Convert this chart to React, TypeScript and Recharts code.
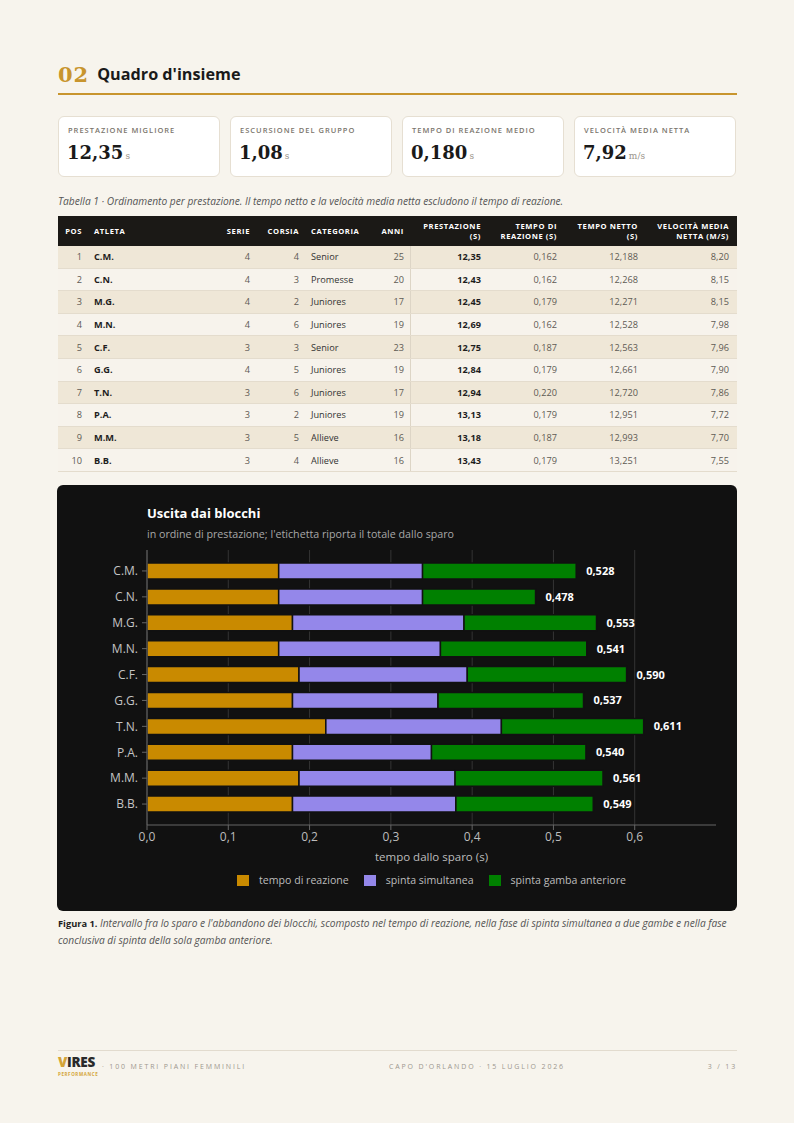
import React from 'react';
import { BarChart, Bar, XAxis, YAxis, CartesianGrid, LabelList } from 'recharts';

// ---------- data ----------
const athletes = ['C.M.', 'C.N.', 'M.G.', 'M.N.', 'C.F.', 'G.G.', 'T.N.', 'P.A.', 'M.M.', 'B.B.'];
const serie = [4, 4, 4, 4, 3, 4, 3, 3, 3, 3];
const corsia = [4, 3, 2, 6, 3, 5, 6, 2, 5, 4];
const categoria = ['Senior', 'Promesse', 'Juniores', 'Juniores', 'Senior', 'Juniores', 'Juniores', 'Juniores', 'Allieve', 'Allieve'];
const anni = [25, 20, 17, 19, 23, 19, 17, 19, 16, 16];
const prestazione = [12.35, 12.43, 12.45, 12.69, 12.75, 12.84, 12.94, 13.13, 13.18, 13.43];
const tempoReazione = [0.162, 0.162, 0.179, 0.162, 0.187, 0.179, 0.22, 0.179, 0.187, 0.179];
const tempoNetto = [12.188, 12.268, 12.271, 12.528, 12.563, 12.661, 12.72, 12.951, 12.993, 13.251];
const velocitaNetta = [8.2, 8.15, 8.15, 7.98, 7.96, 7.9, 7.86, 7.72, 7.7, 7.55];

// chart segments (s)
const spintaSimultanea = [0.177, 0.177, 0.211, 0.199, 0.207, 0.179, 0.216, 0.171, 0.192, 0.201];
const spintaAnteriore = [0.189, 0.139, 0.163, 0.18, 0.196, 0.179, 0.175, 0.19, 0.182, 0.169];
const totaleSparo = [0.528, 0.478, 0.553, 0.541, 0.59, 0.537, 0.611, 0.54, 0.561, 0.549];

const xTicks = [0, 0.1, 0.2, 0.3, 0.4, 0.5, 0.6];

const kpiLabels = ['PRESTAZIONE MIGLIORE', 'ESCURSIONE DEL GRUPPO', 'TEMPO DI REAZIONE MEDIO', 'VELOCITÀ MEDIA NETTA'];
const kpiValues = ['12,35', '1,08', '0,180', '7,92'];
const kpiUnits = ['s', 's', 's', 'm/s'];

const legendLabels = ['tempo di reazione', 'spinta simultanea', 'spinta gamba anteriore'];
const colors = ['#c98a00', '#9487ea', '#008000'];

// ---------- helpers ----------
const fmt = (v: number, d: number) => v.toFixed(d).replace('.', ',');

const chartData = athletes.map((name, i) => ({
  name,
  react: tempoReazione[i],
  simul: spintaSimultanea[i],
  front: spintaAnteriore[i],
  total: fmt(totaleSparo[i], 3),
}));

const SANS = '"Open Sans", "Noto Sans", sans-serif';
const SERIF = '"DejaVu Serif", "Liberation Serif", serif';

const cols = [
  { w: 30, align: 'right', h: ['POS'] },
  { w: 112, align: 'left', h: ['ATLETA'] },
  { w: 56, align: 'right', h: ['SERIE'] },
  { w: 49, align: 'right', h: ['CORSIA'] },
  { w: 65, align: 'left', h: ['CATEGORIA'] },
  { w: 40, align: 'right', h: ['ANNI'] },
  { w: 77, align: 'right', h: ['PRESTAZIONE', '(S)'] },
  { w: 76, align: 'right', h: ['TEMPO DI', 'REAZIONE (S)'] },
  { w: 81, align: 'right', h: ['TEMPO NETTO', '(S)'] },
  { w: 93, align: 'right', h: ['VELOCITÀ MEDIA', 'NETTA (M/S)'] },
];

const gridX = (props: any) => {
  const axis = props.xAxis;
  const off = props.offset;
  if (axis && typeof axis.scale === 'function') {
    return xTicks.map((t) => axis.scale(t));
  }
  const left = off ? off.left : 90;
  const w = off ? off.width : 569;
  return xTicks.map((t) => left + (t / 0.7) * w);
};

export default function App() {
  return (
    <div
      style={{
        position: 'absolute',
        left: 0,
        top: 0,
        width: 794,
        height: 1123,
        background: '#f7f4ed',
        fontFamily: SANS,
        overflow: 'hidden',
      }}
    >
      {/* Section header */}
      <div style={{ position: 'absolute', left: 58, top: 60, height: 28, display: 'flex', alignItems: 'center' }}>
        <span style={{ fontFamily: SERIF, fontWeight: 700, fontSize: 21, color: '#c8952e', letterSpacing: 1 }}>02</span>
        <span style={{ marginLeft: 8, fontWeight: 700, fontSize: 16.2, color: '#1a1a1a' }}>Quadro d'insieme</span>
      </div>
      <div style={{ position: 'absolute', left: 58, top: 93, width: 679, height: 2, background: '#c8952e' }} />

      {/* KPI cards */}
      {kpiLabels.map((lab, i) => (
        <div
          key={lab}
          style={{
            position: 'absolute',
            left: 58 + i * 172,
            top: 116,
            width: 162,
            height: 61,
            boxSizing: 'border-box',
            background: '#ffffff',
            border: '1px solid #e6dfd2',
            borderRadius: 6,
          }}
        >
          <div
            style={{
              position: 'absolute',
              left: 9,
              top: 8,
              fontSize: 7.5,
              fontWeight: 600,
              letterSpacing: 1,
              color: '#7a756c',
              lineHeight: '10px',
              whiteSpace: 'nowrap',
            }}
          >
            {lab}
          </div>
          <div style={{ position: 'absolute', left: 8, top: 25, whiteSpace: 'nowrap' }}>
            <span style={{ fontFamily: SERIF, fontWeight: 700, fontSize: 18, color: '#1a1a1a' }}>{kpiValues[i]}</span>
            <span style={{ fontFamily: SERIF, fontSize: 9, color: '#9a948a', marginLeft: 2 }}>{kpiUnits[i]}</span>
          </div>
        </div>
      ))}

      {/* Table caption */}
      <div style={{ position: 'absolute', left: 58, top: 194, fontSize: 10.2, fontStyle: 'italic', color: '#555', whiteSpace: 'nowrap' }}>
        Tabella 1 · Ordinamento per prestazione. Il tempo netto e la velocità media netta escludono il tempo di reazione.
      </div>

      {/* Table */}
      <div style={{ position: 'absolute', left: 58, top: 216, width: 679 }}>
        <div style={{ display: 'flex', height: 30, background: '#1b1916', color: '#fff', alignItems: 'center' }}>
          {cols.map((c, j) => (
            <div
              key={j}
              style={{
                width: c.w,
                boxSizing: 'border-box',
                padding: j === cols.length - 1 ? '0 8px 0 6px' : '0 6px',
                textAlign: c.align as any,
                fontSize: 7.6,
                fontWeight: 700,
                letterSpacing: 0.6,
                lineHeight: '10.5px',
                whiteSpace: 'nowrap',
              }}
            >
              {c.h.map((t, k) => (
                <div key={k}>{t}</div>
              ))}
            </div>
          ))}
        </div>
        {athletes.map((a, i) => {
          const cells = [
            String(i + 1),
            a,
            String(serie[i]),
            String(corsia[i]),
            categoria[i],
            String(anni[i]),
            fmt(prestazione[i], 2),
            fmt(tempoReazione[i], 3),
            fmt(tempoNetto[i], 3),
            fmt(velocitaNetta[i], 2),
          ];
          return (
            <div
              key={a}
              style={{
                display: 'flex',
                height: 22.6,
                boxSizing: 'border-box',
                alignItems: 'center',
                background: i % 2 === 0 ? '#efe7d7' : '#f7f3ec',
                borderBottom: '1px solid #e4dccd',
              }}
            >
              {cells.map((t, j) => {
                const bold = j === 1 || j === 6;
                return (
                  <div
                    key={j}
                    style={{
                      width: cols[j].w,
                      height: '100%',
                      display: 'flex',
                      alignItems: 'center',
                      justifyContent: cols[j].align === 'right' ? 'flex-end' : 'flex-start',
                      boxSizing: 'border-box',
                      padding: j === cols.length - 1 ? '0 8px 0 6px' : '0 6px',
                      fontSize: 9.2,
                      fontWeight: bold ? 700 : 400,
                      color: bold ? '#1e1e1e' : j === 4 ? '#333' : '#5e5a54',
                      borderLeft: j === 6 ? '1px solid #ddd5c6' : 'none',
                      whiteSpace: 'nowrap',
                    }}
                  >
                    {t}
                  </div>
                );
              })}
            </div>
          );
        })}
      </div>

      {/* Chart panel */}
      <div
        style={{
          position: 'absolute',
          left: 57,
          top: 485,
          width: 680,
          height: 426,
          background: '#111111',
          borderRadius: 6,
        }}
      >
        <div style={{ position: 'absolute', left: 90, top: 19, fontSize: 13, fontWeight: 700, color: '#ffffff', whiteSpace: 'nowrap' }}>
          Uscita dai blocchi
        </div>
        <div style={{ position: 'absolute', left: 90, top: 42, fontSize: 10.7, color: '#a8a8a8', whiteSpace: 'nowrap' }}>
          in ordine di prestazione; l'etichetta riporta il totale dallo sparo
        </div>
        <div style={{ position: 'absolute', left: 0, top: 65 }}>
          <BarChart
            width={680}
            height={320}
            data={chartData}
            layout="vertical"
            margin={{ top: 0, right: 21, bottom: 0, left: 0 }}
            barCategoryGap={0}
          >
            <CartesianGrid
              horizontal={false}
              vertical={true}
              stroke="#343434"
              strokeWidth={1}
              verticalCoordinatesGenerator={gridX}
            />
            <XAxis
              type="number"
              domain={[0, 0.7]}
              ticks={xTicks}
              allowDataOverflow
              tickFormatter={(v: number) => fmt(v, 1)}
              stroke="#666"
              tickSize={5}
              tick={{ fill: '#bdbdbd', fontSize: 12, fontFamily: SANS }}
              height={45}
              label={{ value: 'tempo dallo sparo (s)', position: 'insideBottom', offset: 9, fill: '#bdbdbd', fontSize: 11.5, fontFamily: SANS }}
            />
            <YAxis
              type="category"
              dataKey="name"
              width={90}
              stroke="#666"
              tickSize={5}
              tickMargin={4}
              padding={{ top: 8, bottom: 8 }}
              tick={{ fill: '#c4c4c4', fontSize: 12, fontFamily: SANS }}
              interval={0}
            />
            <Bar dataKey="react" stackId="s" fill={colors[0]} stroke="#111111" strokeWidth={1.5} barSize={16} isAnimationActive={false} />
            <Bar dataKey="simul" stackId="s" fill={colors[1]} stroke="#111111" strokeWidth={1.5} barSize={16} isAnimationActive={false} />
            <Bar dataKey="front" stackId="s" fill={colors[2]} stroke="#111111" strokeWidth={1.5} barSize={16} isAnimationActive={false}>
              <LabelList dataKey="total" position="right" offset={10} fill="#ffffff" fontSize={11} fontWeight={700} fontFamily={SANS} />
            </Bar>
          </BarChart>
        </div>
        {/* legend */}
        <div
          style={{
            position: 'absolute',
            left: 90,
            width: 569,
            top: 388,
            display: 'flex',
            justifyContent: 'center',
            alignItems: 'center',
            fontSize: 10.6,
            color: '#bdbdbd',
          }}
        >
          {legendLabels.map((l, i) => (
            <div key={l} style={{ display: 'flex', alignItems: 'center', marginLeft: i === 0 ? 0 : 15 }}>
              <span style={{ display: 'inline-block', width: 12, height: 11, background: colors[i], marginRight: 10 }} />
              <span style={{ whiteSpace: 'nowrap' }}>{l}</span>
            </div>
          ))}
        </div>
      </div>

      {/* Figure caption */}
      <div style={{ position: 'absolute', left: 58, top: 915, width: 680, fontSize: 9.3, lineHeight: '16px', color: '#555' }}>
        <span style={{ fontWeight: 700, color: '#1e1e1e' }}>Figura 1.</span>{' '}
        <span style={{ fontStyle: 'italic', fontSize: 10.2 }}>
          Intervallo fra lo sparo e l'abbandono dei blocchi, scomposto nel tempo di reazione, nella fase di spinta simultanea a due gambe e nella fase conclusiva di spinta della sola gamba anteriore.
        </span>
      </div>

      {/* Footer */}
      <div style={{ position: 'absolute', left: 58, top: 1050, width: 679, height: 1, background: '#e2dbce' }} />
      <div style={{ position: 'absolute', left: 58, top: 1055, fontSize: 13.5, fontWeight: 800, color: '#2a2a2a', lineHeight: '15px', letterSpacing: -0.3 }}>
        <span style={{ color: '#d4a437' }}>V</span>IRES
      </div>
      <div style={{ position: 'absolute', left: 58, top: 1071, fontSize: 4.5, fontWeight: 700, color: '#d4a437', letterSpacing: 0.6 }}>
        PERFORMANCE
      </div>
      <div style={{ position: 'absolute', left: 102, top: 1062, fontSize: 7, letterSpacing: 1.85, color: '#9d978d', whiteSpace: 'nowrap' }}>
        · 100 METRI PIANI FEMMINILI
      </div>
      <div style={{ position: 'absolute', left: 389, top: 1062, fontSize: 7, letterSpacing: 1.85, color: '#9d978d', whiteSpace: 'nowrap' }}>
        CAPO D'ORLANDO · 15 LUGLIO 2026
      </div>
      <div style={{ position: 'absolute', right: 57, top: 1062, fontSize: 7, letterSpacing: 1.85, color: '#9d978d', whiteSpace: 'nowrap' }}>
        3 / 13
      </div>
    </div>
  );
}
